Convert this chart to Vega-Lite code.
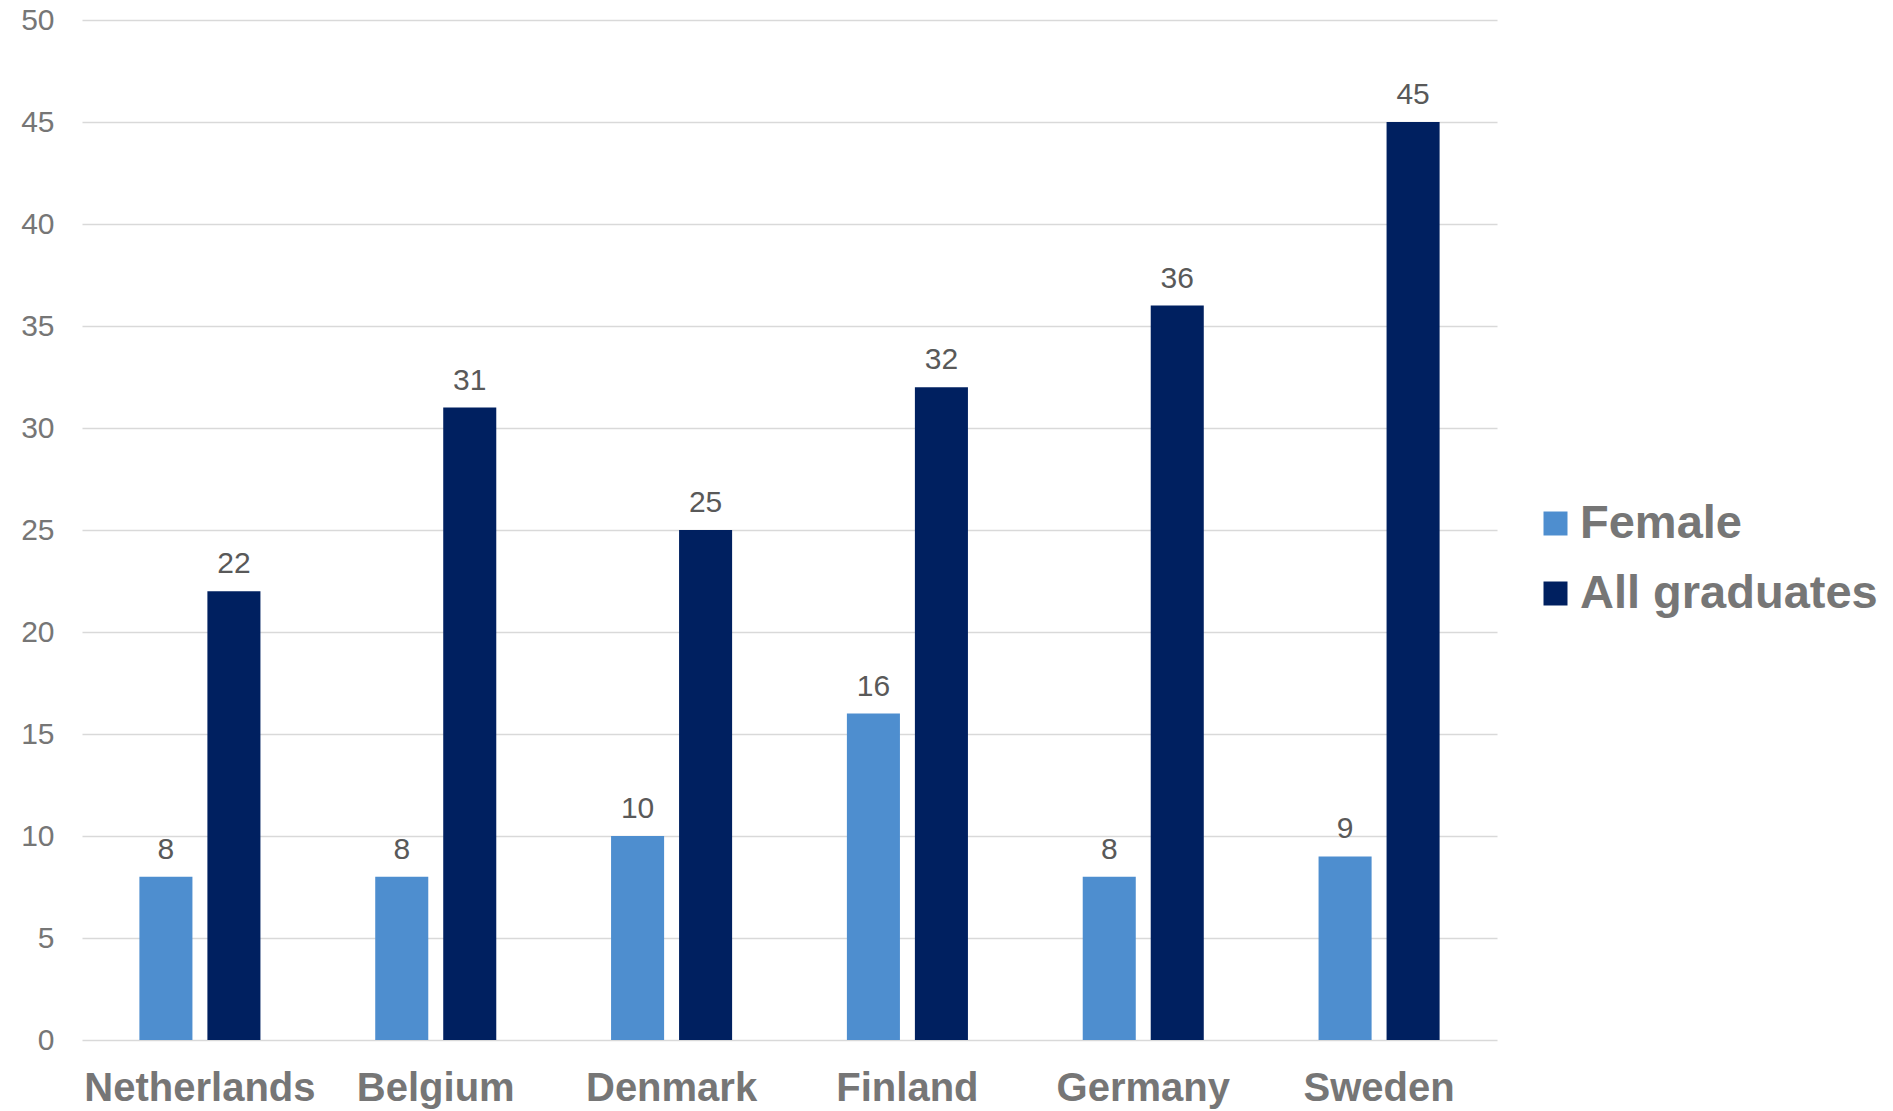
{
  "$schema": "https://vega.github.io/schema/vega-lite/v6.json",
  "width": 1415,
  "height": 1020,
  "autosize": {"type": "none"},
  "padding": {"left": 82, "top": 20, "right": 396, "bottom": 71},
  "background": "white",
  "config": {
    "font": "Liberation Sans",
    "view": {"stroke": null}
  },
  "data": {
    "values": [
      {"country": "Netherlands", "series": "Female", "value": 8},
      {"country": "Netherlands", "series": "All graduates", "value": 22},
      {"country": "Belgium", "series": "Female", "value": 8},
      {"country": "Belgium", "series": "All graduates", "value": 31},
      {"country": "Denmark", "series": "Female", "value": 10},
      {"country": "Denmark", "series": "All graduates", "value": 25},
      {"country": "Finland", "series": "Female", "value": 16},
      {"country": "Finland", "series": "All graduates", "value": 32},
      {"country": "Germany", "series": "Female", "value": 8},
      {"country": "Germany", "series": "All graduates", "value": 36},
      {"country": "Sweden", "series": "Female", "value": 9},
      {"country": "Sweden", "series": "All graduates", "value": 45}
    ]
  },
  "encoding": {
    "x": {
      "field": "country",
      "type": "nominal",
      "sort": null,
      "scale": {"paddingInner": 0, "paddingOuter": 0},
      "axis": {
        "title": null,
        "labelAngle": 0,
        "labelFontSize": 40,
        "labelFontWeight": "bold",
        "labelColor": "#767676",
        "labelPadding": 28,
        "labelLimit": 400,
        "domain": false,
        "ticks": false,
        "grid": false
      }
    },
    "xOffset": {
      "field": "series",
      "type": "nominal",
      "sort": ["Female", "All graduates"],
      "scale": {"paddingInner": 0.22, "paddingOuter": 0.844}
    },
    "y": {
      "field": "value",
      "type": "quantitative",
      "scale": {"domain": [0, 50], "nice": false},
      "axis": {
        "title": null,
        "values": [0, 5, 10, 15, 20, 25, 30, 35, 40, 45, 50],
        "grid": true,
        "gridColor": "#d9d9d9",
        "gridWidth": 1.5,
        "domain": false,
        "ticks": false,
        "labelFontSize": 30,
        "labelColor": "#767676",
        "labelPadding": 28
      }
    }
  },
  "layer": [
    {
      "mark": {"type": "bar"},
      "encoding": {
        "color": {
          "field": "series",
          "type": "nominal",
          "sort": ["Female", "All graduates"],
          "scale": {"domain": ["Female", "All graduates"], "range": ["#4e8ecf", "#002060"]},
          "legend": {
            "title": null,
            "orient": "none",
            "legendX": 1450,
            "legendY": 480,
            "symbolType": "square",
            "symbolSize": 576,
            "symbolStrokeWidth": 0,
            "labelFontSize": 47,
            "labelFontWeight": "bold",
            "labelColor": "#767676",
            "labelOffset": 1,
            "labelLimit": 600,
            "rowPadding": 22
          }
        }
      }
    },
    {
      "mark": {"type": "text", "baseline": "alphabetic", "dy": -18, "fontSize": 30, "color": "#595959"},
      "encoding": {
        "text": {"field": "value", "type": "quantitative"}
      }
    }
  ]
}
